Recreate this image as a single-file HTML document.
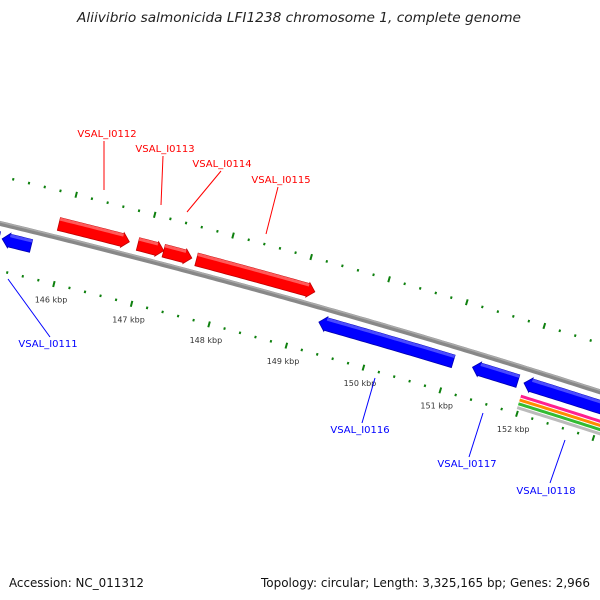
<!DOCTYPE html>
<html><head><meta charset="utf-8"><style>
html,body{margin:0;padding:0;background:#fff}
svg{display:block}
text{font-family:"DejaVu Sans","Liberation Sans",sans-serif}
</style></head><body>
<svg id="map" width="600" height="600" viewBox="0 0 600 600" xmlns="http://www.w3.org/2000/svg">
<text x="299" y="22" text-anchor="middle" font-size="13.7" font-style="italic" fill="#222" textLength="444" lengthAdjust="spacingAndGlyphs">Aliivibrio salmonicida LFI1238 chromosome 1, complete genome</text>
<text x="9" y="587" font-size="12" fill="#111" textLength="135" lengthAdjust="spacingAndGlyphs">Accession: NC_011312</text>
<text x="590" y="587" text-anchor="end" font-size="12" fill="#111" textLength="329" lengthAdjust="spacingAndGlyphs">Topology: circular; Length: 3,325,165 bp; Genes: 2,966</text>
<g id="plot"></g>
</svg>
<script>
// data (kbp)
const geneNames = ["VSAL_I0110","VSAL_I0111","VSAL_I0112","VSAL_I0113","VSAL_I0114","VSAL_I0115","VSAL_I0116","VSAL_I0117","VSAL_I0118"];
const geneStart = [144.5,145.24,145.88,146.89,147.22,147.64,149.31,151.30,151.97];
const geneEnd   = [145.2,145.61,146.78,147.22,147.58,149.16,151.05,151.89,153.3];
const geneStrand = [-1,-1,1,1,1,1,-1,-1,-1];
const tickLabels = ["146 kbp","147 kbp","148 kbp","149 kbp","150 kbp","151 kbp","152 kbp"];
const tickKbp = [146,147,148,149,150,151,152];
const trackStart = [151.98,151.98,151.98,151.98];
const trackColors = ["#ff2090","#ff8c00","#33bb33","#bbbbbb"];

const svgNS="http://www.w3.org/2000/svg";
const plot=document.getElementById('plot');
const CX=-1995, CY=8486, R=8500, PHI0=-1.326, DPHI=0.009482;
function ang(k){return PHI0+(k-146)*DPHI;}
function pt(k,r){const a=ang(k);return [CX+r*Math.cos(a),CY+r*Math.sin(a)];}
function arcPts(k1,k2,r){const n=Math.max(2,Math.ceil((k2-k1)*20));const p=[];for(let i=0;i<=n;i++){p.push(pt(k1+(k2-k1)*i/n,r));}return p;}
function mk(tag,attrs){const e=document.createElementNS(svgNS,tag);for(const k in attrs)e.setAttribute(k,attrs[k]);plot.appendChild(e);return e;}
function ptsStr(p){return p.map(q=>q[0].toFixed(2)+','+q[1].toFixed(2)).join(' ');}

let bb=mk('polyline',{points:ptsStr(arcPts(143.5,154.5,R)),fill:'none',stroke:'#888',"stroke-width":5});


let bb2=mk('polyline',{points:ptsStr(arcPts(143.5,154.5,R+1.5)),fill:'none',stroke:'#aaa',"stroke-width":1.5});



trackColors.forEach((c,i)=>{
  const r=R-28-i*4;
  const l=mk('polyline',{points:ptsStr(arcPts(trackStart[i],154.5,r)),fill:'none',stroke:c,"stroke-width":3});
  
  
});

for(let t=143;t<=155.001;t+=0.2){
  const k=Math.round(t*10)/10;
  const major=Math.abs(k-Math.round(k))<0.01;
  const len=major?6:2.5;
  [R+46,R-46].forEach(r=>{
    const a=pt(k,r-len/2),b=pt(k,r+len/2);
    const ln=mk('line',{x1:a[0],y1:a[1],x2:b[0],y2:b[1],stroke:'#0e800e',"stroke-width":2});
    
    
  });
}
tickKbp.forEach((k,i)=>{
  const p=pt(k,R-62);
  const tx=mk('text',{x:p[0]+1,y:p[1]+3,"text-anchor":"middle","font-size":8,fill:'#333'});
  tx.textContent=tickLabels[i];
  
  
});

const head=0.09;
geneNames.forEach((n,i)=>{
  const s=geneStart[i],e=geneEnd[i],d=geneStrand[i];
  const r1=d>0?R+7:R-21, r2=d>0?R+20:R-8, rm=(r1+r2)/2;
  const col=d>0?'#ff0000':'#0000ff', dark=d>0?'#c00000':'#0000b0', light=d>0?'#ff5a5a':'#4a4aff';
  let poly;
  if(d>0){
    const be=Math.max(s,e-head);
    poly=[...arcPts(s,be,r2),pt(be,r2+1),pt(e,rm),pt(be,r1-1),...arcPts(s,be,r1).reverse()];
  } else {
    const bs=Math.min(e,s+head);
    poly=[pt(s,rm),pt(bs,r2+1),...arcPts(bs,e,r2),...arcPts(bs,e,r1).reverse(),pt(bs,r1-1)];
  }
  const g=mk('polygon',{points:ptsStr(poly),fill:col,stroke:dark,"stroke-width":0.8});
  
  
  const bs2=d>0?s:Math.min(e,s+head), be2=d>0?Math.max(s,e-head):e;
  const hl=mk('polygon',{points:ptsStr([...arcPts(bs2,be2,r2),...arcPts(bs2,be2,r2-3).reverse()]),fill:light});
  
  
});

const labels=[
 ["VSAL_I0112",107,137,"#f00",[104,141,104,190]],
 ["VSAL_I0113",165,152,"#f00",[163,156,161,205]],
 ["VSAL_I0114",222,167,"#f00",[221,171,187,212]],
 ["VSAL_I0115",281,183,"#f00",[278,187,266,234]],
 ["VSAL_I0111",48,347,"#00f",[8,279,50,337]],
 ["VSAL_I0116",360,433,"#00f",[375,378,362,423]],
 ["VSAL_I0117",467,467,"#00f",[483,413,469,457]],
 ["VSAL_I0118",546,494,"#00f",[565,440,550,483]]
];
labels.forEach(l=>{
  const ln=mk('line',{x1:l[4][0],y1:l[4][1],x2:l[4][2],y2:l[4][3],stroke:l[3],"stroke-width":1});
  
  
  const t=mk('text',{x:l[1],y:l[2],"text-anchor":"middle","font-size":10,fill:l[3]});
  t.textContent=l[0];
  
  
});
</script>
</body></html>
